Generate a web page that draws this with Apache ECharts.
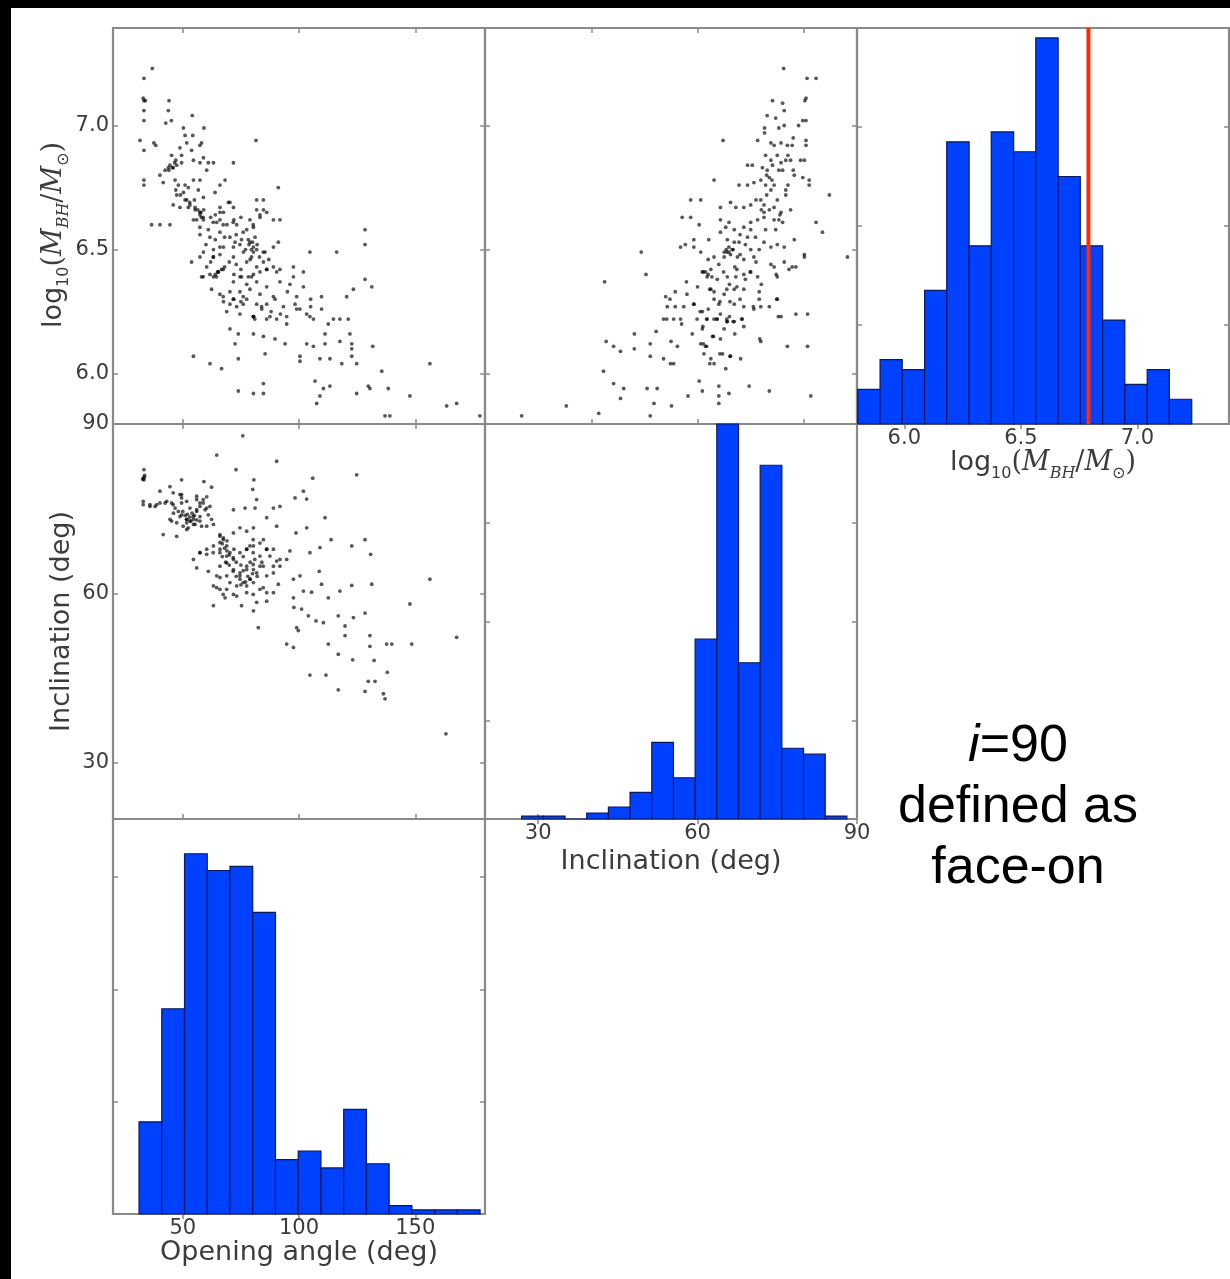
<!DOCTYPE html>
<html>
<head>
<meta charset="utf-8">
<script src="https://cdn.jsdelivr.net/npm/echarts@6/dist/echarts.min.js"></script>
<style>
  html, body { margin: 0; padding: 0; background: #000; width: 1230px; height: 1279px; overflow: hidden; }
  #chart { position: absolute; left: 11px; top: 8px; width: 1219px; height: 1271px; background: #fff; filter: blur(0.6px); }
  #note { position: absolute; left: 868px; top: 713px; width: 300px; text-align: center;
          font-family: 'Liberation Sans', Arial, sans-serif; font-size: 52px; line-height: 61px; color: #000; }
</style>
</head>
<body>
<div id="chart"></div>
<div id="note"><i>i</i>=90<br>defined as<br>face-on</div>
<script>
// ---- Histogram bins: edges and counts ----
const logMassEdges = [5.800, 5.896, 5.991, 6.087, 6.182, 6.278, 6.373, 6.469, 6.564, 6.660, 6.755, 6.851, 6.946, 7.042, 7.137, 7.233];
const logMassCounts = [7, 13, 11, 27, 57, 36, 59, 55, 78, 50, 36, 21, 8, 11, 5];

const inclEdges = [26.90, 30.98, 35.06, 39.14, 43.22, 47.30, 51.38, 55.46, 59.54, 63.62, 67.70, 71.78, 75.86, 79.94, 84.02, 88.10];
const inclCounts = [1, 1, 0, 2, 4, 9, 26, 14, 61, 134, 53, 120, 24, 22, 1];

const openEdges = [31.20, 40.98, 50.76, 60.54, 70.32, 80.10, 89.88, 99.66, 109.44, 119.22, 129.00, 138.78, 148.56, 158.34, 168.12, 177.90];
const openCounts = [22, 49, 86, 82, 83, 72, 13, 15, 11, 25, 12, 2, 1, 1, 1];

// reference black-hole mass marked in red
const refLogMass = 6.79;

// ---- Tick labels ----
const logMassTicks = [6.0, 6.5, 7.0];
const inclTicks = [30, 60, 90];
const inclScatterTicks = [40, 60, 80];
const openTicks = [50, 100, 150];

// ---- Posterior samples: opening angle (deg) vs log10 M_BH ----
const openVsLogMass = [
  [36.9,7.23],[33.3,7.19],[33.0,7.11],[33.9,7.10],[33.3,7.10],
  [44.1,7.10],[43.8,7.06],[33.3,7.06],[42.7,7.01],[45.1,7.02],[54.1,7.04],[33.3,7.02],[59.1,6.99],[50.3,6.99],
  [31.6,6.94],[33.3,6.90],[37.6,6.93],[38.4,6.92],[54.3,6.96],[51.0,6.96],[58.1,6.93],[57.4,6.92],[81.5,6.94],[48.8,6.91],[51.7,6.93],[53.8,6.90],[49.5,6.88],[45.2,6.88],[47.4,6.84],[49.5,6.85],[54.6,6.86],[57.4,6.85],[58.9,6.87],[61.0,6.85],[63.2,6.85],[71.8,6.85],
  [40.2,6.80],[42.4,6.82],[43.8,6.83],[45.9,6.83],[41.6,6.77],[46.7,6.78],[48.1,6.76],[51.0,6.76],[52.4,6.75],[54.6,6.78],[57.4,6.78],[60.3,6.82],[66.0,6.76],[68.2,6.78],[63.9,6.73],[58.9,6.71],[56.7,6.74],[50.3,6.73],[33.3,6.78],[33.3,6.76],[91.1,6.75],[81.8,6.70],[84.7,6.70],
  [45.9,6.68],[48.8,6.67],[52.4,6.67],[55.3,6.66],[57.4,6.64],[58.9,6.62],[54.6,6.62],[57.4,6.59],[61.0,6.58],[64.6,6.61],[67.5,6.65],[70.3,6.69],[71.8,6.67],[66.0,6.67],[73.2,6.60],[77.5,6.58],[80.4,6.59],[83.2,6.63],[86.1,6.65],[89.0,6.62],[91.8,6.62],[36.6,6.60],[40.2,6.60],[44.5,6.60],[128.4,6.58],[81.8,6.66],[84.7,6.66],[81.1,6.55],
  [57.4,6.56],[61.7,6.55],[66.0,6.57],[70.3,6.55],[74.6,6.52],[78.2,6.54],[80.4,6.51],[71.8,6.51],[67.5,6.51],[63.2,6.50],[58.9,6.49],[53.8,6.45],[57.4,6.47],[63.2,6.47],[66.0,6.48],[71.8,6.47],[76.1,6.49],[80.4,6.49],[85.4,6.49],[89.0,6.51],[91.1,6.53],[104.7,6.49],[116.2,6.49],[128.4,6.52],[84.7,6.45],[81.8,6.43],[77.5,6.45],
  [58.1,6.39],[61.7,6.40],[65.3,6.41],[66.7,6.42],[63.2,6.39],[74.6,6.39],[78.2,6.39],[80.4,6.40],[83.2,6.41],[86.1,6.42],[89.0,6.43],[91.8,6.42],[97.6,6.43],[97.6,6.39],[101.9,6.41],[71.8,6.37],[77.5,6.36],[81.8,6.37],[86.1,6.35],[91.8,6.37],[96.1,6.36],[101.9,6.35],[62.4,6.34],[66.0,6.32],[70.3,6.33],[74.6,6.33],[78.9,6.34],[83.2,6.32],[89.0,6.31],[128.4,6.38],[131.3,6.35],[123.4,6.34],[120.5,6.31],
  [67.5,6.29],[70.3,6.28],[73.2,6.27],[77.5,6.30],[81.8,6.28],[86.1,6.28],[89.7,6.30],[93.3,6.27],[98.3,6.28],[100.4,6.26],[103.3,6.24],[106.2,6.22],[109.7,6.31],[109.7,6.26],[68.9,6.25],[74.6,6.24],[80.4,6.23],[86.1,6.22],[90.4,6.22],[94.7,6.20],[112.6,6.20],[114.8,6.22],[117.6,6.22],[121.2,6.22],[70.3,6.18],[73.9,6.16],[80.4,6.16],[84.7,6.15],[89.7,6.14],[94.0,6.12],
  [72.5,6.12],[103.3,6.12],[106.2,6.11],[111.2,6.12],[111.2,6.16],[117.6,6.13],[121.9,6.16],[122.7,6.12],[122.7,6.10],[122.7,6.07],[131.7,6.11],[100.4,6.07],[109.0,6.06],[113.3,6.06],[85.4,6.08],[73.9,6.06],[54.6,6.07],[61.7,6.04],[66.7,6.02],[100.4,6.05],[118.4,6.04],[124.8,6.04],[156.3,6.04],
  [73.9,5.93],[80.4,5.92],[84.7,5.92],[84.7,5.96],[106.9,5.97],[110.5,5.94],[113.3,5.95],[109.0,5.91],[107.6,5.88],[124.8,5.92],[129.8,5.95],[130.5,5.94],[135.6,6.01],[138.4,5.94],[147.7,5.91],[163.5,5.87],[167.8,5.88],[137.0,5.83],[139.1,5.83],[177.8,5.83],
  [44.5,6.84],[45.5,6.83],[46.5,6.85],[44.0,6.82],[47.0,6.86],[56.5,6.66],[57.8,6.65],[59.0,6.66],[58.0,6.63],[64.0,6.40],[65.0,6.41],[64.5,6.39],
  [78.5,6.52],[79.5,6.50],[80.0,6.53],[77.0,6.50],[82.0,6.52],[80.5,6.23],[81.0,6.22],[72.0,6.30],[75.0,6.29],[76.0,6.31],
  [69.0,6.60],[72.0,6.62],[75.0,6.63],[68.0,6.55],[73.0,6.56],[76.0,6.57],[70.0,6.45],[73.0,6.44],[75.0,6.42],[68.0,6.43],[72.0,6.40],[79.0,6.46],[83.0,6.47],[87.0,6.46],[62.0,6.45],[60.0,6.52],[64.0,6.54],
  [55.0,6.70],[53.0,6.69],[51.0,6.70],[49.0,6.72],[47.0,6.74],[62.0,6.63],[64.0,6.64],[66.0,6.62],[88.0,6.25],[92.0,6.24],[84.0,6.26],[95.0,6.33],[99.0,6.31],[105.0,6.30],[105.0,6.27],
  [47.4,6.72],[51.7,6.70],[55.3,6.67],[57.4,6.65],[58.8,6.63],[56.0,6.62],[53.1,6.68],[69.6,6.69],[66.0,6.65],[63.1,6.61],[67.4,6.60],[71.7,6.61],[78.9,6.62],[80.3,6.60],[83.2,6.64],
  [72.5,6.53],[75.3,6.54],[78.9,6.53],[79.6,6.47],[81.8,6.50],[84.6,6.49],[66.0,6.51],[63.1,6.47],[60.3,6.43],[65.3,6.41],[67.4,6.42],[58.8,6.39],[75.3,6.39],[79.6,6.39],[86.1,6.42],[90.4,6.41],
  [67.4,6.31],[71.7,6.30],[76.0,6.28],[80.3,6.23],[83.9,6.27],[87.5,6.23],[94.7,6.23],[99.0,6.26],[104.7,6.23]
];

// ---- Posterior samples: inclination (deg) vs log10 M_BH ----
const inclVsLogMass = [
  [76.2,7.23],[80.6,7.19],[82.3,7.19],[80.4,7.11],[80.2,7.10],[74.1,7.10],[76.0,7.09],[73.1,7.04],[74.7,7.03],[76.3,7.06],[79.8,7.02],[80.4,7.02],[72.6,6.99],[72.6,6.97],[75.3,6.99],[76.3,7.00],[64.8,6.94],
  [71.3,6.94],[73.8,6.93],[74.4,6.92],[75.7,6.93],[76.9,6.92],[77.8,6.92],[80.4,6.92],[80.4,6.94],
  [72.8,6.88],[73.8,6.86],[75.0,6.88],[75.7,6.85],[76.6,6.86],[77.5,6.86],[79.4,6.86],[80.1,6.86],
  [69.4,6.84],[70.3,6.84],[72.2,6.83],[73.1,6.82],[74.1,6.84],[75.3,6.82],[76.0,6.82],[78.2,6.80],[79.8,6.79],[81.0,6.78],[81.0,6.76],
  [63.1,6.78],[67.8,6.76],[69.4,6.76],[70.6,6.77],[71.9,6.78],[72.8,6.76],[73.8,6.74],[74.4,6.76],[76.6,6.74],[76.6,6.72],[84.8,6.72],
  [58.7,6.70],[60.6,6.70],[64.3,6.67],[66.2,6.69],[67.2,6.67],[68.7,6.67],[70.0,6.68],[71.9,6.70],[72.5,6.68],[73.5,6.66],[74.4,6.67],[75.7,6.65],[77.5,6.66],[82.3,6.61],[83.5,6.57],
  [57.1,6.63],[58.7,6.63],[60.3,6.60],[64.3,6.62],[65.3,6.59],[65.9,6.61],[66.9,6.58],[68.7,6.59],[70.0,6.61],[71.3,6.62],[72.5,6.63],[74.4,6.62],[75.3,6.62],[76.0,6.61],[74.7,6.58],[72.8,6.58],
  [56.8,6.51],[57.7,6.52],[59.3,6.54],[59.3,6.51],[62.1,6.54],[64.3,6.57],[65.6,6.54],[65.9,6.51],[66.9,6.53],[67.8,6.53],[69.4,6.55],[70.9,6.55],[72.5,6.53],[73.8,6.51],[75.0,6.52],[76.3,6.51],[78.2,6.54],
  [49.4,6.49],[60.6,6.49],[63.1,6.47],[65.0,6.49],[65.9,6.49],[67.5,6.47],[68.7,6.46],[70.6,6.47],[71.6,6.50],[73.8,6.44],[74.4,6.43],[76.3,6.45],[77.8,6.43],[80.1,6.48],[80.1,6.47],[88.2,6.47],
  [42.5,6.37],[50.3,6.40],[57.9,6.37],[60.9,6.41],[61.8,6.39],[62.5,6.42],[63.7,6.38],[65.6,6.39],[67.2,6.39],[68.7,6.40],[70.0,6.41],[71.3,6.39],[75.0,6.39],[77.2,6.42],[78.5,6.43],
  [54.0,6.31],[55.8,6.33],[59.3,6.28],[62.5,6.34],[63.1,6.33],[63.1,6.30],[65.0,6.32],[66.9,6.34],[68.7,6.34],[71.6,6.33],[71.6,6.30],[75.0,6.30],
  [54.3,6.27],[55.8,6.27],[57.4,6.27],[59.3,6.28],[60.9,6.25],[63.1,6.22],[64.3,6.24],[66.9,6.28],[68.7,6.27],[70.6,6.26],[71.9,6.27],[73.5,6.27],[75.7,6.23],[78.5,6.24],[80.7,6.24],
  [53.6,6.22],[55.5,6.22],[56.8,6.22],[59.9,6.22],[61.8,6.22],[63.7,6.22],[65.6,6.21],[66.9,6.21],[68.4,6.22],[68.7,6.19],
  [48.1,6.16],[52.2,6.17],[59.0,6.16],[60.9,6.18],[62.8,6.15],[64.3,6.14],[71.9,6.13],[76.9,6.11],[80.7,6.11],
  [42.8,6.13],[44.2,6.11],[45.5,6.09],[48.1,6.10],[51.1,6.12],[51.1,6.07],[55.0,6.13],[56.2,6.11],[60.6,6.12],[61.5,6.11],[61.2,6.08],[62.5,6.06],[63.1,6.04],[64.7,6.08],[66.2,6.07],[68.1,6.06],[65.3,6.02],[53.6,6.06],[54.9,6.04],[55.5,6.04],
  [42.3,6.01],[44.2,5.96],[45.5,5.90],[46.1,5.94],[50.5,5.94],[52.4,5.94],[51.8,5.88],[55.1,5.87],[58.2,5.91],[60.3,5.97],[60.9,5.93],[64.0,5.95],[64.0,5.91],[64.0,5.88],[65.9,5.92],[69.7,5.95],[73.5,5.93],[81.3,5.91],
  [26.9,5.83],[35.3,5.87],[41.4,5.84],[51.1,5.83],
  [65.4,6.50],[66.2,6.48],[65.0,6.47],[66.5,6.50],[61.5,6.41],[62.0,6.40],[65.5,6.22],[66.0,6.23],[72.0,6.66],[72.5,6.65],
  [73.0,6.80],[73.5,6.79],[74.0,6.78],[75.5,6.64],[74.8,6.40],
  [68.0,6.56],[69.0,6.52],[70.0,6.50],[71.0,6.45],[67.0,6.43],[64.0,6.44],[62.0,6.46],[69.0,6.38],[72.0,6.36],[66.0,6.36],[60.0,6.35],[58.0,6.32],[64.0,6.28],[62.0,6.26],[57.0,6.20],[61.0,6.19],[65.0,6.18],[67.0,6.16],
  [70.0,6.58],[71.0,6.70],[73.0,6.72],[75.0,6.70],[77.0,6.76],[78.0,6.82],[77.0,6.88],[78.0,6.95],[79.0,7.00],
  [65.5,6.49],[66.7,6.50],[68.0,6.48],[61.1,6.41],[62.7,6.39],[64.9,6.41],[67.4,6.42],[69.9,6.41],[62.3,6.34],[65.5,6.34],[67.4,6.35],
  [64.2,6.29],[66.1,6.29],[68.0,6.30],[70.5,6.27],[60.5,6.25],[61.7,6.22],[63.6,6.22],[65.5,6.21],[66.7,6.21],[68.3,6.22],[54.8,6.30],[54.2,6.22],
  [63.0,6.15],[61.1,6.12],[61.7,6.11],[64.2,6.08],[66.1,6.07],[62.3,6.04],[71.7,6.14],[74.9,6.30],[75.2,6.23]
];

// ---- Posterior samples: opening angle (deg) vs inclination (deg) ----
const openVsIncl = [
  [75.8,87.9],[64.6,84.5],[90.4,83.4],[72.9,81.9],[33.3,81.9],[33.0,80.4],[33.3,80.1],[33.5,80.6],[49.5,80.1],[59.1,79.8],[62.4,78.8],[80.6,80.1],[80.1,78.4],[105.9,80.4],[124.8,81.0],
  [40.2,78.1],[44.5,78.9],[48.8,77.5],[49.5,76.9],
  [33.0,75.7],[35.9,75.4],[38.8,75.7],[42.4,76.0],[45.9,75.7],[49.5,76.0],[51.7,76.3],[56.0,76.6],[57.4,76.0],[60.3,77.1],
  [46.0,74.2],[48.8,73.6],[51.7,73.1],[54.6,73.1],[57.4,73.6],[59.6,74.8],[61.7,75.4],[56.0,74.8],[53.1,75.1],
  [51.7,72.5],[54.6,72.2],[57.4,72.8],[60.3,71.9],[63.2,72.2],[45.2,72.8],
  [71.8,74.8],[76.8,75.1],[81.1,75.1],[81.8,76.6],[89.0,75.1],[91.8,75.4],[98.3,76.9],[101.9,78.1],[103.3,76.7],
  [41.6,70.4],[47.4,70.1],[51.7,71.3],
  [66.0,70.4],[67.5,69.8],[71.8,70.7],[74.6,71.6],[77.5,71.0],[80.4,71.6],[84.7,69.5],[90.4,71.9],[86.1,73.4],[98.7,70.7],[103.3,71.6],[111.2,73.4],
  [54.6,66.0],[57.4,67.2],[60.3,67.8],[63.2,68.4],[66.0,67.2],[68.9,66.6],[71.8,66.0],[74.6,67.2],[77.5,67.8],[80.4,68.4],[83.2,68.9],[86.1,67.8],[89.0,67.8],[91.8,66.0],[96.1,67.5],[104.7,67.2],[109.0,68.1],[113.8,69.5],
  [122.7,68.4],[128.4,69.5],[130.8,66.9],
  [56.0,64.5],[61.0,63.9],[64.6,63.1],[66.0,64.8],[68.9,65.4],[71.8,64.2],[74.6,63.6],[77.5,64.8],[80.4,64.2],[83.2,64.8],[86.1,63.1],[89.0,63.6],[91.8,64.8],[94.7,66.0],[97.6,62.5],[100.4,63.1],[108.7,63.9],
  [63.2,61.3],[66.0,60.7],[70.3,61.9],[74.6,62.5],[77.5,61.3],[80.4,61.9],[83.2,60.7],[86.1,60.1],[89.0,60.1],[91.1,61.6],[97.6,59.2],[101.9,60.4],[105.4,60.2],[109.7,61.6],[112.6,59.2],[117.6,60.4],[122.7,61.4],[131.3,61.6],[156.3,62.5],
  [63.2,57.8],[68.2,59.2],[71.8,59.8],[75.3,57.8],[80.4,56.9],[81.8,58.4],[86.1,58.6],[97.8,57.5],[101.1,57.2],[104.0,56.0],[107.3,55.1],[110.5,54.8],[116.9,56.0],[119.8,54.2],[123.4,55.7],[128.4,56.5],[147.7,58.1],
  [82.5,53.9],[99.0,53.9],[99.7,53.4],[119.8,52.5],[130.5,52.5],[137.7,51.0],[139.9,51.0],[148.5,51.0],[167.8,52.2],
  [94.7,51.0],[97.6,50.4],[112.6,51.0],[116.9,49.2],[123.1,48.2],[130.5,50.6],[132.3,48.1],
  [104.7,45.5],[111.6,45.5],[116.9,42.9],[128.4,42.6],[129.8,44.4],[132.7,44.4],[136.3,42.2],[137.0,41.3],[138.0,46.0],
  [163.2,35.1],
  [52.0,74.0],[53.0,73.5],[54.0,74.2],[55.0,73.8],[50.0,74.5],[56.0,73.0],[51.0,73.8],[53.5,72.8],
  [66.0,69.0],[68.0,68.0],[69.0,67.5],[70.0,66.8],[67.0,66.5],[68.5,65.5],[70.0,65.0],[72.0,67.8],[67.0,68.8],[69.0,69.3],
  [73.0,65.5],[75.0,65.0],[76.0,64.0],[78.0,63.0],[79.0,65.5],[81.0,66.0],[82.0,63.0],[77.0,62.0],[75.0,61.5],[79.0,62.5],[80.0,63.5],[84.0,65.5],[76.0,66.5],[73.0,63.0],
  [33.6,80.9],[32.8,80.2],
  [33.0,76.3],[35.9,75.7],[38.1,75.4],[40.2,76.0],[43.1,76.3],[45.2,76.0],[46.7,75.1],[48.1,74.5],[49.5,73.9],[51.7,73.1],[53.1,72.8],[54.5,73.6],[56.0,74.5],[57.4,75.4],[58.8,76.0],[60.3,75.1],[61.0,73.9],[62.4,73.1],
  [45.9,77.8],[49.5,77.5],[56.0,77.2],[58.8,76.6],[44.5,73.1],[47.4,72.5],[50.2,71.9],[52.4,71.6],[55.3,72.2],[58.1,71.9],
  [66.0,70.1],[67.4,69.5],[68.9,68.4],[70.3,67.2],[71.7,66.3],[66.0,67.8],[63.1,67.2],[60.3,66.9],[57.4,67.2],
  [77.5,67.8],[80.3,67.2],[83.2,66.6],[84.6,64.8],[80.3,65.1],[77.5,64.2],[74.6,63.1],[76.0,61.9],[78.9,62.5],[81.8,63.6],[73.2,61.3],[68.9,60.7],[66.0,62.8],[68.9,63.1],[71.7,63.9],[64.6,61.0],[67.4,59.8],[73.2,59.5],[77.5,60.1],[80.3,59.8],[84.6,61.0],
  [80.3,69.5],[78.9,68.4],[86.1,67.8],[87.5,66.6],[89.0,64.8],[90.4,65.7]
];

// ---- Layout and style ----
const FRAME = '#8a8a8a';
const INK = '#3c3c3c';
const SANS = 'DejaVu Sans';
const BAR_FILL = '#0040ff';
const BAR_EDGE = '#0a1860';

const RANGE = {
  open: [20, 180],
  incl: [20, 90],
  logM: [5.797, 7.393]
};

const panels = [
  { left: 102, top: 20,  width: 372, height: 396 },  // open vs logM
  { left: 474, top: 20,  width: 372, height: 396 },  // incl vs logM
  { left: 846, top: 20,  width: 372, height: 396 },  // logM histogram
  { left: 102, top: 416, width: 372, height: 395 },  // open vs incl
  { left: 474, top: 416, width: 372, height: 395 },  // incl histogram
  { left: 102, top: 811, width: 372, height: 395 }   // open histogram
];

// log10(M_BH / M_sun) with lowered subscripts
const logMassTitle = '{t|log}{s|10}{p|(}{m|M}{s2|BH}{p|/}{m|M}{s|\u2299}{p|)}';
const logMassRich = {
  t:  { fontFamily: SANS, fontSize: 27, color: INK },
  s:  { fontFamily: SANS, fontSize: 16, color: INK, padding: [20, 0, 0, 0] },
  p:  { fontFamily: 'DejaVu Serif', fontSize: 27, color: INK },
  m:  { fontFamily: 'DejaVu Serif', fontStyle: 'italic', fontSize: 27, color: INK },
  s2: { fontFamily: 'DejaVu Serif', fontStyle: 'italic', fontSize: 16, color: INK, padding: [20, 0, 0, 0] }
};

function fmt1(v) { return Number(v).toFixed(1); }
function fmt0(v) { return String(Math.round(v)); }

function axis(o) {
  const a = {
    type: 'value', gridIndex: o.grid, position: o.position,
    min: o.range[0], max: o.range[1],
    axisLine: { show: false },
    splitLine: { show: false },
    axisTick: { show: true, inside: true, length: 5, customValues: o.ticks,
                lineStyle: { color: FRAME, width: 1.5 } },
    axisLabel: { show: false },
    silent: true
  };
  if (o.labels) {
    a.axisLabel = {
      show: true, customValues: o.labels, formatter: o.fmt, margin: o.margin || 4,
      color: INK, fontFamily: SANS, fontSize: 21,
      showMinLabel: true, showMaxLabel: true, hideOverlap: false
    };
  }
  if (o.name) {
    a.name = o.name;
    a.nameLocation = 'middle';
    a.nameGap = o.nameGap;
    a.nameRotate = o.nameRotate;
    a.nameTextStyle = o.nameStyle || { fontFamily: SANS, fontSize: 27, color: INK };
  }
  return a;
}

// x axes: bottom (2g) and top (2g+1); y axes: left (2g) and right (2g+1)
const xSpec = [
  { range: RANGE.open, ticks: openTicks },
  { range: RANGE.incl, ticks: inclScatterTicks },
  { range: RANGE.logM, ticks: logMassTicks, labels: logMassTicks, fmt: fmt1,
    name: logMassTitle, nameGap: 19, nameStyle: { rich: logMassRich } },
  { range: RANGE.open, ticks: openTicks },
  { range: RANGE.incl, ticks: inclTicks, labels: inclTicks, fmt: fmt0,
    name: 'Inclination (deg)', nameGap: 29 },
  { range: RANGE.open, ticks: openTicks, labels: openTicks, fmt: fmt0,
    name: 'Opening angle (deg)', nameGap: 23 }
];
const ySpec = [
  { range: RANGE.logM, ticks: logMassTicks, labels: logMassTicks, fmt: fmt1,
    name: logMassTitle, nameGap: 26, nameRotate: 90,
    nameStyle: { rich: logMassRich, padding: [0, 18, 0, 0] } },
  { range: RANGE.logM, ticks: logMassTicks },
  { range: [0, 80], ticks: [20, 40, 60] },
  { range: RANGE.incl, ticks: inclTicks, labels: inclTicks, fmt: fmt0,
    name: 'Inclination (deg)', nameGap: 38, nameRotate: 90 },
  { range: [0, 134], ticks: [33.5, 67, 100.5] },
  { range: [0, 94.3], ticks: [26.8, 53.6, 80.4] }
];

const xAxes = [], yAxes = [];
xSpec.forEach((s, g) => {
  xAxes.push(axis(Object.assign({ grid: g, position: 'bottom' }, s)));
  xAxes.push(axis({ grid: g, position: 'top', range: s.range, ticks: s.ticks }));
});
ySpec.forEach((s, g) => {
  yAxes.push(axis(Object.assign({ grid: g, position: 'left' }, s)));
  yAxes.push(axis({ grid: g, position: 'right', range: s.range, ticks: s.ticks }));
});

function histData(edges, counts) {
  return counts.map((c, i) => [edges[i], edges[i + 1], c]);
}

function renderBin(params, api) {
  const p0 = api.coord([api.value(0), 0]);
  const p1 = api.coord([api.value(1), api.value(2)]);
  return {
    type: 'rect',
    shape: { x: p0[0], y: p1[1], width: p1[0] - p0[0], height: p0[1] - p1[1] },
    style: { fill: BAR_FILL, stroke: BAR_EDGE, lineWidth: 1.2 }
  };
}

function scatter(g, data) {
  return {
    type: 'scatter', xAxisIndex: 2 * g, yAxisIndex: 2 * g, data: data,
    symbol: 'circle', symbolSize: 3.8,
    itemStyle: { color: 'rgba(0,0,0,0.82)' }, silent: true
  };
}

function hist(g, edges, counts) {
  return {
    type: 'custom', xAxisIndex: 2 * g, yAxisIndex: 2 * g,
    data: histData(edges, counts), renderItem: renderBin,
    encode: { x: [0, 1], y: 2 }, silent: true
  };
}

const chart = echarts.init(document.getElementById('chart'), null, { renderer: 'canvas' });
chart.setOption({
  animation: false,
  backgroundColor: '#fff',
  grid: panels.map(p => Object.assign({ show: true, borderColor: FRAME, borderWidth: 2.2,
                                         backgroundColor: 'transparent' }, p)),
  xAxis: xAxes,
  yAxis: yAxes,
  series: [
    scatter(0, openVsLogMass),
    scatter(1, inclVsLogMass),
    hist(2, logMassEdges, logMassCounts),
    {
      type: 'line', xAxisIndex: 4, yAxisIndex: 4, silent: true, symbol: 'none', z: 5,
      data: [[refLogMass, 0], [refLogMass, 80]],
      lineStyle: { color: '#ff2a00', width: 4 }
    },
    scatter(3, openVsIncl),
    hist(4, inclEdges, inclCounts),
    hist(5, openEdges, openCounts)
  ]
});
</script>
</body>
</html>
